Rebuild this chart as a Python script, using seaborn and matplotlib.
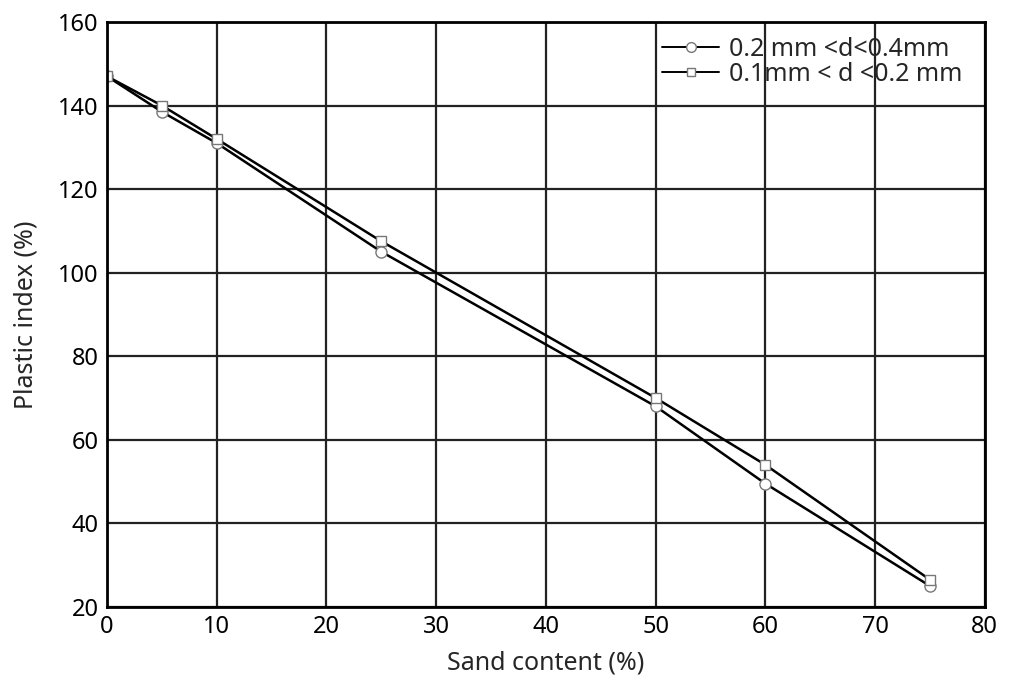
import matplotlib
matplotlib.use("Agg")
import matplotlib.pyplot as plt
import seaborn as sns
import pandas as pd
from matplotlib.lines import Line2D

sand = [0, 5, 10, 25, 50, 60, 75]
pi_coarse = [147, 138.5, 131, 105, 68, 49.5, 25]      # 0.2 mm < d < 0.4 mm
pi_fine = [147, 140, 132, 107.5, 70, 54, 26.5]        # 0.1 mm < d < 0.2 mm
labels = ["0.2 mm <d<0.4mm", "0.1mm < d <0.2 mm"]
xticks = [0, 10, 20, 30, 40, 50, 60, 70, 80]
yticks = [20, 40, 60, 80, 100, 120, 140, 160]

sns.set_style("white")
plt.rcParams['font.family'] = ['Noto Sans', 'DejaVu Sans']

df = pd.DataFrame({
    "sand": sand * 2,
    "pi": pi_coarse + pi_fine,
    "series": [labels[0]] * len(sand) + [labels[1]] * len(sand),
})

fig = plt.figure(figsize=(10.10, 6.88), dpi=100)
ax = fig.add_axes([0.106, 0.118, 0.869, 0.85])

sns.lineplot(data=df, x="sand", y="pi", hue="series", style="series",
             markers={labels[0]: "o", labels[1]: "s"}, dashes=False,
             palette={labels[0]: "black", labels[1]: "black"},
             linewidth=1.8, markersize=8, markerfacecolor="white",
             markeredgecolor="#777777", markeredgewidth=1.0, ax=ax, legend=False)
for line in ax.lines:
    if line.get_marker() == "s":
        line.set_markersize(7)

ax.set_xlim(0, 80)
ax.set_ylim(20, 160)
ax.set_xticks(xticks)
ax.set_yticks(yticks)
ax.grid(True, color="#222222", linewidth=1.6)
ax.set_axisbelow(True)
for s in ax.spines.values():
    s.set_color("black")
    s.set_linewidth(2.0)
ax.tick_params(axis="both", labelsize=17, length=0, pad=6, colors="black")
ax.set_xlabel("Sand content (%)", fontsize=18, labelpad=8)
ax.set_ylabel("Plastic index (%)", fontsize=18, labelpad=14)

handles = [
    Line2D([], [], color="black", lw=1.4, marker="o", markersize=7,
           markerfacecolor="white", markeredgecolor="#777777"),
    Line2D([], [], color="black", lw=1.4, marker="s", markersize=6,
           markerfacecolor="white", markeredgecolor="#777777"),
]
leg = ax.legend(handles, labels, loc="upper right", frameon=False, fontsize=18,
                handlelength=2.3, handletextpad=0.4, labelspacing=0.0,
                borderaxespad=0.3, bbox_to_anchor=(0.995, 1.005))

fig.savefig("out.png", dpi=100, facecolor="white")
